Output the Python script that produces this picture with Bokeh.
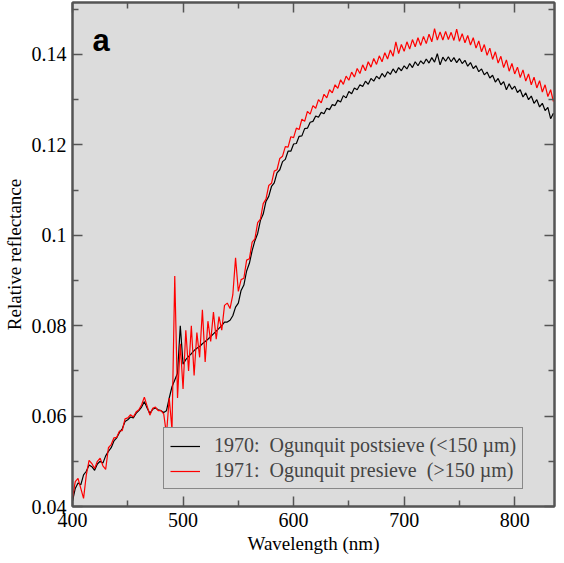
from bokeh.plotting import figure
from bokeh.models import (FixedTicker, LinearAxis, Range1d, Label, Legend, LegendItem,
                          CustomLabelingPolicy)
from bokeh.embed import file_html
from bokeh.resources import INLINE
import numpy as np

# Wavelength sampling (nm), 2.5 nm steps from 400 to 835
wavelength = np.arange(400, 836, 2.5)

# 1970: Ogunquit postsieve (<150 um)
post_1970 = [
    # 400 - 477.5
    0.0412, 0.0440, 0.0452, 0.0448, 0.0470, 0.0478, 0.0492, 0.0488,
    0.0480, 0.0494, 0.0500, 0.0496, 0.0512, 0.0522, 0.0530, 0.0545,
    0.0552, 0.0564, 0.0572, 0.0588, 0.0592, 0.0598, 0.0596, 0.0606,
    0.0612, 0.0620, 0.0632, 0.0618, 0.0606, 0.0615, 0.0618, 0.0614,
    # 480 - 537.5
    0.0612, 0.0608, 0.0612, 0.0640, 0.0665, 0.0680, 0.0695, 0.0800,
    0.0715, 0.0725, 0.0732, 0.0738, 0.0745, 0.0750, 0.0754, 0.0760,
    0.0765, 0.0770, 0.0776, 0.0782, 0.0788, 0.0794, 0.0800, 0.0808,
    # 540 - 835
    0.0808, 0.0812, 0.0822, 0.0841, 0.0850, 0.0878, 0.0890, 0.0921,
    0.0938, 0.0966, 0.0988, 0.1004, 0.1033, 0.1047, 0.1075, 0.1086,
    0.1108, 0.1116, 0.1138, 0.1145, 0.1163, 0.1168, 0.1186, 0.1186,
    0.1202, 0.1203, 0.1219, 0.1220, 0.1236, 0.1237, 0.1250, 0.1252,
    0.1264, 0.1261, 0.1272, 0.1269, 0.1281, 0.1278, 0.1289, 0.1287,
    0.1299, 0.1295, 0.1309, 0.1304, 0.1318, 0.1313, 0.1326, 0.1322,
    0.1333, 0.1329, 0.1341, 0.1334, 0.1347, 0.1341, 0.1352, 0.1346,
    0.1358, 0.1350, 0.1362, 0.1356, 0.1368, 0.1359, 0.1371, 0.1364,
    0.1375, 0.1368, 0.1380, 0.1371, 0.1384, 0.1375, 0.1386, 0.1379,
    0.1390, 0.1381, 0.1393, 0.1383, 0.1402, 0.1377, 0.1394, 0.1385,
    0.1395, 0.1384, 0.1393, 0.1382, 0.1391, 0.1380, 0.1387, 0.1374,
    0.1382, 0.1369, 0.1375, 0.1362, 0.1368, 0.1355, 0.1361, 0.1348,
    0.1354, 0.1339, 0.1347, 0.1333, 0.1340, 0.1322, 0.1335, 0.1323,
    0.1330, 0.1316, 0.1322, 0.1306, 0.1315, 0.1300, 0.1308, 0.1292,
    0.1300, 0.1284, 0.1292, 0.1276, 0.1283, 0.1258, 0.1270,
]

# 1971: Ogunquit presieve (>150 um)
pre_1971 = [
    # 400 - 477.5
    0.0418, 0.0455, 0.0462, 0.0440, 0.0418, 0.0470, 0.0502, 0.0495,
    0.0484, 0.0500, 0.0507, 0.0490, 0.0482, 0.0530, 0.0537, 0.0552,
    0.0553, 0.0567, 0.0568, 0.0594, 0.0596, 0.0603, 0.0598, 0.0609,
    0.0614, 0.0625, 0.0642, 0.0622, 0.0602, 0.0617, 0.0620, 0.0612,
    # 480 - 537.5
    0.0612, 0.0605, 0.0560, 0.0640, 0.0570, 0.0910, 0.0640, 0.0760,
    0.0660, 0.0790, 0.0700, 0.0800, 0.0690, 0.0785, 0.0730, 0.0835,
    0.0720, 0.0810, 0.0765, 0.0830, 0.0770, 0.0820, 0.0790, 0.0845,
    # 540 - 835
    0.0850, 0.0838, 0.0868, 0.0950, 0.0876, 0.0902, 0.0905, 0.0945,
    0.0948, 0.0985, 0.0992, 0.1028, 0.1036, 0.1070, 0.1080, 0.1110,
    0.1115, 0.1142, 0.1145, 0.1170, 0.1175, 0.1196, 0.1195, 0.1218,
    0.1216, 0.1237, 0.1234, 0.1257, 0.1252, 0.1274, 0.1268, 0.1287,
    0.1281, 0.1300, 0.1293, 0.1312, 0.1304, 0.1322, 0.1315, 0.1333,
    0.1325, 0.1344, 0.1334, 0.1352, 0.1343, 0.1361, 0.1350, 0.1369,
    0.1358, 0.1377, 0.1364, 0.1384, 0.1372, 0.1391, 0.1378, 0.1397,
    0.1384, 0.1404, 0.1390, 0.1410, 0.1396, 0.1428, 0.1402, 0.1422,
    0.1407, 0.1428, 0.1412, 0.1433, 0.1417, 0.1437, 0.1420, 0.1440,
    0.1424, 0.1445, 0.1428, 0.1457, 0.1432, 0.1450, 0.1432, 0.1451,
    0.1433, 0.1449, 0.1431, 0.1456, 0.1429, 0.1446, 0.1426, 0.1442,
    0.1421, 0.1437, 0.1414, 0.1430, 0.1406, 0.1422, 0.1398, 0.1414,
    0.1389, 0.1406, 0.1381, 0.1396, 0.1371, 0.1388, 0.1363, 0.1380,
    0.1357, 0.1372, 0.1349, 0.1366, 0.1341, 0.1357, 0.1333, 0.1350,
    0.1326, 0.1342, 0.1317, 0.1333, 0.1307, 0.1322, 0.1296,
]

n = min(len(wavelength), len(post_1970), len(pre_1971))

x_major = [400, 500, 600, 700, 800]
x_minor = [450, 550, 650, 750]
y_major = [0.04, 0.06, 0.08, 0.1, 0.12, 0.14]
y_minor = [0.05, 0.07, 0.09, 0.11, 0.13, 0.15]
y_labels = {0.04: "0.04", 0.06: "0.06", 0.08: "0.08", 0.1: "0.1", 0.12: "0.12", 0.14: "0.14"}

label_1970 = "1970:  Ogunquit postsieve (<150 µm)"
label_1971 = "1971:  Ogunquit presieve  (>150 µm)"

SERIF = "Liberation Serif"
BG = "#dcdcdc"
FRAME = "#555555"

p = figure(width=556, height=556, output_backend="svg", toolbar_location=None,
           x_range=Range1d(400, 836), y_range=Range1d(0.04, 0.1515),
           min_border_left=66, min_border_right=2, min_border_top=2, min_border_bottom=0,
           background_fill_color=BG, border_fill_color="white")
p.grid.visible = False
p.outline_line_color = FRAME
p.outline_line_width = 2

l1 = p.line(wavelength[:n], post_1970[:n], line_color="black", line_width=1.2)
l2 = p.line(wavelength[:n], pre_1971[:n], line_color="red", line_width=1.2)

def style_axis(ax, show_labels):
    ax.major_tick_in = 10
    ax.major_tick_out = 0
    ax.minor_tick_in = 6
    ax.minor_tick_out = 0
    ax.major_tick_line_color = FRAME
    ax.minor_tick_line_color = FRAME
    ax.major_tick_line_width = 1.5
    ax.minor_tick_line_width = 1.5
    ax.axis_line_color = FRAME
    ax.axis_line_width = 2
    ax.major_label_text_font = SERIF
    ax.major_label_text_color = "black"
    ax.axis_label_text_font = SERIF
    ax.axis_label_text_font_style = "normal"
    ax.axis_label_text_color = "black"
    ax.axis_label_text_font_size = "19px"
    if show_labels:
        ax.major_label_text_font_size = "20px"
    else:
        # tick marks only: no tick labels are drawn and no room is kept for them
        ax.major_label_policy = CustomLabelingPolicy(code="""
            for (const i of indices) indices.unset(i)
            return indices
        """)
        ax.major_label_text_font_size = "0px"
        ax.major_label_standoff = 0

p.xaxis[0].ticker = FixedTicker(ticks=x_major, minor_ticks=x_minor)
p.yaxis[0].ticker = FixedTicker(ticks=y_major, minor_ticks=y_minor)
p.yaxis[0].major_label_overrides = y_labels
p.xaxis[0].axis_label = "Wavelength (nm)"
p.yaxis[0].axis_label = "Relative reflectance"
style_axis(p.xaxis[0], True)
style_axis(p.yaxis[0], True)
p.xaxis[0].major_label_standoff = 6
p.xaxis[0].axis_label_standoff = 3
p.yaxis[0].major_label_standoff = 6
p.yaxis[0].axis_label_standoff = 4

top = LinearAxis(ticker=FixedTicker(ticks=x_major, minor_ticks=x_minor))
style_axis(top, False)
p.add_layout(top, "above")
right = LinearAxis(ticker=FixedTicker(ticks=y_major, minor_ticks=y_minor))
style_axis(right, False)
p.add_layout(right, "right")

p.add_layout(Label(x=418, y=0.1393, text="a", text_font="Liberation Sans",
                   text_font_style="bold", text_font_size="31px", text_color="black"))

legend = Legend(items=[LegendItem(label=label_1970, renderers=[l1]),
                       LegendItem(label=label_1971, renderers=[l2])],
                location=(91, 17), background_fill_color=BG, background_fill_alpha=1,
                border_line_color="#333333", border_line_width=1.5,
                label_text_font=SERIF, label_text_font_size="20px",
                glyph_width=30, label_standoff=14, spacing=2, padding=6, margin=0)
p.add_layout(legend, "center")

open("out.html", "w").write(file_html(p, INLINE))
